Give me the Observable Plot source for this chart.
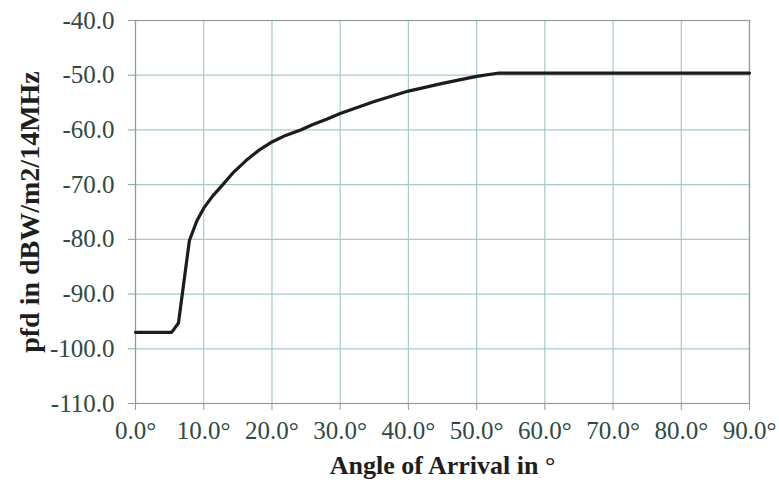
<!DOCTYPE html>
<html><head><meta charset="utf-8">
<script src="https://cdn.jsdelivr.net/npm/d3@7"></script>
<script src="https://cdn.jsdelivr.net/npm/@observablehq/plot@0.6"></script>
<style>body{margin:0;background:#fff}</style>
</head><body><div id="chart"></div>
<script>
const angles = [0, 5.3, 6.3, 7.9, 9.0, 10.0, 11.3, 12.8, 14.4, 16.2, 18.0, 20.0, 22.0, 24.2, 26.0, 28.1, 30, 35, 40, 45, 50, 53.3, 90];
const pfd    = [-97, -97, -95.3, -80.2, -76.6, -74.3, -72.1, -70.0, -67.7, -65.6, -63.8, -62.2, -61.0, -60.0, -59.0, -58.0, -57.0, -54.8, -52.9, -51.5, -50.2, -49.6, -49.6];
const xTicks = [0, 10, 20, 30, 40, 50, 60, 70, 80, 90];
const yTicks = [-40, -50, -60, -70, -80, -90, -100, -110];
const xTitle = "Angle of Arrival in °";
const yTitle = "pfd in dBW/m2/14MHz";

const data = angles.map((a, i) => ({angle: a, pfd: pfd[i]}));
const textColor = "#2e4a42";
const chart = Plot.plot({
  width: 779, height: 485,
  marginLeft: 135, marginRight: 30, marginTop: 20, marginBottom: 82,
  style: {fontFamily: "Liberation Serif, Times New Roman, serif", fontSize: "25px", color: textColor, background: "#fff"},
  x: {domain: [0, 90]},
  y: {domain: [-110, -40]},
  marks: [
    Plot.gridX(xTicks, {stroke: "#a5cacc", strokeOpacity: 1, strokeWidth: 1.2}),
    Plot.gridY(yTicks, {stroke: "#a5cacc", strokeOpacity: 1, strokeWidth: 1.2}),
    Plot.frame({stroke: "#939b9b", strokeWidth: 1.2}),
    Plot.axisX(xTicks, {tickFormat: d => d.toFixed(1) + "°", tickSize: 7, tickPadding: 11, stroke: "#939b9b", label: null, fill: textColor, fontSize: 25}),
    Plot.axisY(yTicks, {tickFormat: d => d.toFixed(1), tickSize: 7, tickPadding: 14, stroke: "#939b9b", label: null, fill: textColor, fontSize: 25}),
    Plot.line(data, {x: "angle", y: "pfd", stroke: "#1c1c1c", strokeWidth: 3.2, curve: "linear", strokeLinejoin: "round"}),
    Plot.text([xTitle], {frameAnchor: "bottom", dy: 70, fontWeight: "bold", fontSize: 26, fill: "#1e1e1e", textAnchor: "middle"}),
    Plot.text([yTitle], {frameAnchor: "left", dx: -105, rotate: -90, fontWeight: "bold", fontSize: 28, fill: "#1e1e1e", textAnchor: "middle"})
  ]
});
document.getElementById("chart").append(chart);
</script>
</body></html>
